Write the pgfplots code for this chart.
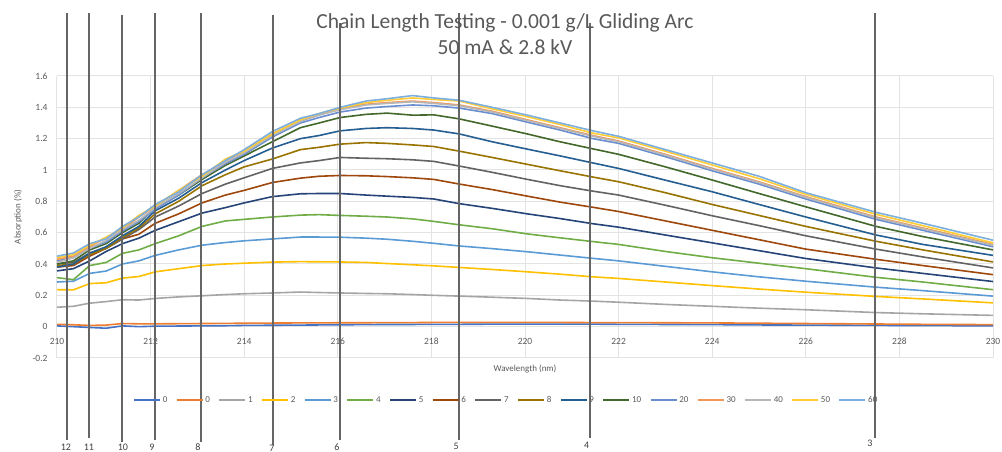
\documentclass[border=0pt]{standalone}
\usepackage{fontspec}
\setmainfont{Carlito}
\usepackage{pgfplots}
\pgfplotsset{compat=1.18}
\usepackage{pgfplotstable}

\definecolor{cA}{HTML}{4472C4}
\definecolor{cB}{HTML}{ED7D31}
\definecolor{cC}{HTML}{A5A5A5}
\definecolor{cD}{HTML}{FFC000}
\definecolor{cE}{HTML}{5B9BD5}
\definecolor{cF}{HTML}{70AD47}
\definecolor{cG}{HTML}{264478}
\definecolor{cH}{HTML}{9E480E}
\definecolor{cI}{HTML}{636363}
\definecolor{cJ}{HTML}{997300}
\definecolor{cK}{HTML}{255E91}
\definecolor{cL}{HTML}{43682B}
\definecolor{cM}{HTML}{698ED0}
\definecolor{cN}{HTML}{F1975A}
\definecolor{cO}{HTML}{B7B7B7}
\definecolor{cP}{HTML}{FFCD33}
\definecolor{cQ}{HTML}{7CAFDD}
\definecolor{gridc}{HTML}{E3E3E3}
\definecolor{textc}{HTML}{595959}
\definecolor{vlinec}{HTML}{666666}
\definecolor{labc}{HTML}{404040}

\pgfplotstableread{
x s0a s0b s1 s2 s3 s4 s5 s6 s7 s8 s9 s10 s20 s30 s40 s50 s60
210 0.005 0.015 0.124 0.236 0.285 0.313 0.356 0.38 0.40 0.39 0.38 0.40 0.42 0.43 0.41 0.44 0.45
210.35 0.000 0.012 0.130 0.235 0.290 0.300 0.370 0.39 0.41 0.40 0.40 0.42 0.44 0.45 0.44 0.46 0.47
210.7 -0.005 0.008 0.150 0.275 0.340 0.390 0.420 0.45 0.47 0.46 0.47 0.49 0.50 0.51 0.50 0.52 0.53
211.05 -0.010 0.010 0.160 0.280 0.355 0.410 0.480 0.50 0.50 0.50 0.51 0.53 0.54 0.57 0.55 0.57 0.56
211.4 0.005 0.020 0.172 0.310 0.400 0.468 0.530 0.56 0.56 0.57 0.58 0.60 0.61 0.62 0.62 0.63 0.64
211.75 0.000 0.018 0.170 0.320 0.420 0.490 0.565 0.59 0.62 0.63 0.64 0.66 0.67 0.70 0.68 0.71 0.70
212.1 0.003 0.018 0.180 0.350 0.455 0.530 0.615 0.66 0.70 0.72 0.74 0.76 0.75 0.77 0.76 0.77 0.78
212.6 0.004 0.019 0.190 0.370 0.490 0.580 0.670 0.72 0.77 0.80 0.82 0.84 0.84 0.87 0.85 0.87 0.86
213.1 0.005 0.020 0.197 0.390 0.520 0.640 0.725 0.79 0.85 0.90 0.92 0.94 0.95 0.97 0.95 0.96 0.97
213.6 0.006 0.021 0.205 0.400 0.537 0.675 0.760 0.84 0.91 0.97 1.00 1.03 1.04 1.05 1.05 1.07 1.06
214 0.008 0.022 0.210 0.405 0.548 0.685 0.790 0.87 0.95 1.02 1.06 1.09 1.10 1.12 1.11 1.12 1.13
214.6 0.009 0.023 0.215 0.412 0.560 0.700 0.830 0.92 1.01 1.07 1.14 1.18 1.21 1.23 1.22 1.23 1.245
215.2 0.010 0.024 0.221 0.415 0.572 0.712 0.848 0.948 1.045 1.13 1.20 1.27 1.30 1.32 1.31 1.32 1.33
215.6 0.011 0.024 0.218 0.414 0.572 0.715 0.850 0.960 1.060 1.145 1.22 1.30 1.335 1.355 1.35 1.36 1.36
216.05 0.012 0.025 0.215 0.413 0.571 0.710 0.850 0.965 1.080 1.165 1.25 1.335 1.37 1.39 1.385 1.395 1.40
216.6 0.013 0.025 0.212 0.410 0.565 0.705 0.840 0.963 1.075 1.175 1.265 1.355 1.395 1.42 1.415 1.43 1.44
217.05 0.014 0.026 0.210 0.403 0.558 0.700 0.833 0.958 1.072 1.170 1.270 1.363 1.405 1.43 1.425 1.445 1.455
217.6 0.014 0.026 0.205 0.395 0.545 0.688 0.825 0.950 1.065 1.160 1.265 1.350 1.415 1.44 1.435 1.46 1.475
218.05 0.015 0.027 0.200 0.388 0.532 0.672 0.815 0.940 1.055 1.150 1.255 1.352 1.41 1.43 1.425 1.45 1.46
218.6 0.015 0.027 0.195 0.378 0.515 0.650 0.785 0.910 1.025 1.120 1.230 1.326 1.395 1.415 1.41 1.44 1.445
219.3 0.016 0.027 0.188 0.365 0.498 0.625 0.755 0.875 0.985 1.080 1.180 1.280 1.36 1.375 1.37 1.39 1.40
220.05 0.016 0.027 0.180 0.350 0.478 0.592 0.720 0.833 0.940 1.036 1.133 1.230 1.305 1.32 1.315 1.34 1.35
220.75 0.016 0.027 0.170 0.335 0.457 0.567 0.690 0.795 0.900 0.995 1.090 1.180 1.255 1.27 1.265 1.29 1.30
221.45 0.016 0.026 0.163 0.318 0.436 0.543 0.657 0.762 0.865 0.955 1.045 1.135 1.20 1.22 1.215 1.235 1.25
222 0.015 0.026 0.156 0.308 0.420 0.525 0.635 0.735 0.840 0.925 1.010 1.100 1.17 1.185 1.18 1.205 1.215
223 0.014 0.025 0.142 0.285 0.385 0.480 0.585 0.675 0.775 0.855 0.935 1.020 1.085 1.10 1.095 1.12 1.13
224 0.013 0.024 0.130 0.262 0.350 0.440 0.535 0.615 0.708 0.780 0.861 0.936 0.995 1.01 1.005 1.032 1.045
225 0.011 0.022 0.118 0.240 0.318 0.405 0.485 0.555 0.645 0.710 0.780 0.850 0.91 0.925 0.92 0.945 0.96
226 0.010 0.020 0.108 0.220 0.290 0.370 0.435 0.495 0.580 0.640 0.700 0.765 0.815 0.83 0.825 0.845 0.855
227.5 0.008 0.017 0.090 0.193 0.252 0.315 0.375 0.430 0.495 0.545 0.585 0.640 0.685 0.70 0.695 0.717 0.73
228.5 0.007 0.015 0.082 0.177 0.230 0.285 0.340 0.390 0.445 0.490 0.525 0.575 0.615 0.63 0.625 0.645 0.66
230 0.005 0.013 0.072 0.152 0.195 0.236 0.288 0.332 0.375 0.413 0.455 0.490 0.51 0.525 0.52 0.535 0.552
}\spectra

\begin{document}
\begin{tikzpicture}
\path[use as bounding box] (-57pt,-94pt) rectangle (945pt,358pt);
\begin{axis}[
  scale only axis, width=936pt, height=282pt,
  xmin=210, xmax=230, ymin=-0.2, ymax=1.6,
  clip=false,
  axis line style={draw=none},
  tick style={draw=none},
  xtick={210,212,214,216,218,220,222,224,226,228,230},
  xticklabels={210,212,214,216,218,220,222,224,226,228,230},
  ytick={-0.2,0,0.2,0.4,0.6,0.8,1,1.2,1.4,1.6},
  yticklabels={-0.2,0,0.2,0.4,0.6,0.8,1,1.2,1.4,1.6},
  grid=major, grid style={line width=1pt, color=gridc},
  ticklabel style={font=\fontsize{9.5}{10}\selectfont, text=textc},
  xticklabel style={anchor=center, yshift=17pt},
  yticklabel style={xshift=-6pt},
  xlabel={Wavelength (nm)},
  xlabel style={at={(axis description cs:0.5,-0.039)}, anchor=center, font=\fontsize{9}{10}\selectfont, text=textc},
  ylabel={Absorption (\%)},
  ylabel style={at={(axis description cs:-0.0417,0.5)}, anchor=center, font=\fontsize{9}{10}\selectfont, text=textc},
  title={Chain Length Testing - 0.001 g/L Gliding Arc\\50 mA \& 2.8 kV},
  title style={at={(axis description cs:0.4786,1.128)}, anchor=center, align=center, font=\fontsize{21.5}{26}\selectfont, text=textc},
  legend columns=17,
  legend style={at={(axis description cs:0.48,-0.149)}, anchor=center, draw=none, fill=none,
    font=\fontsize{9}{10}\selectfont, text=textc, inner sep=0pt,
    column sep=0pt, /tikz/every even column/.append style={column sep=6.5pt}},
  legend image code/.code={\draw[#1] (0pt,0pt) -- (26pt,0pt);},
  every axis plot/.append style={line width=1.6pt},
]
\addplot[cA] table[x=x,y=s0a] {\spectra}; \addlegendentry{0}
\addplot[cB] table[x=x,y=s0b] {\spectra}; \addlegendentry{0}
\addplot[cC] table[x=x,y=s1] {\spectra}; \addlegendentry{1}
\addplot[cD] table[x=x,y=s2] {\spectra}; \addlegendentry{2}
\addplot[cE] table[x=x,y=s3] {\spectra}; \addlegendentry{3}
\addplot[cF] table[x=x,y=s4] {\spectra}; \addlegendentry{4}
\addplot[cG] table[x=x,y=s5] {\spectra}; \addlegendentry{5}
\addplot[cH] table[x=x,y=s6] {\spectra}; \addlegendentry{6}
\addplot[cI] table[x=x,y=s7] {\spectra}; \addlegendentry{7}
\addplot[cJ] table[x=x,y=s8] {\spectra}; \addlegendentry{8}
\addplot[cK] table[x=x,y=s9] {\spectra}; \addlegendentry{9}
\addplot[cL] table[x=x,y=s10] {\spectra}; \addlegendentry{10}
\addplot[cM] table[x=x,y=s20] {\spectra}; \addlegendentry{20}
\addplot[cN] table[x=x,y=s30] {\spectra}; \addlegendentry{30}
\addplot[cO] table[x=x,y=s40] {\spectra}; \addlegendentry{40}
\addplot[cP] table[x=x,y=s50] {\spectra}; \addlegendentry{50}
\addplot[cQ] table[x=x,y=s60] {\spectra}; \addlegendentry{60}
% vertical marker lines
\addplot[forget plot, vlinec, line width=2pt] coordinates {(210.214,2.002) (210.214,-0.723)};
\addplot[forget plot, vlinec, line width=2pt] coordinates {(210.684,2.002) (210.684,-0.711)};
\addplot[forget plot, vlinec, line width=2pt] coordinates {(211.389,1.989) (211.389,-0.736)};
\addplot[forget plot, vlinec, line width=2pt] coordinates {(212.094,2.002) (212.094,-0.723)};
\addplot[forget plot, vlinec, line width=2pt] coordinates {(213.077,2.002) (213.077,-0.736)};
\addplot[forget plot, vlinec, line width=2pt] coordinates {(214.615,1.989) (214.615,-0.755)};
\addplot[forget plot, vlinec, line width=2pt] coordinates {(216.047,1.938) (216.047,-0.723)};
\addplot[forget plot, vlinec, line width=2pt] coordinates {(218.590,2.002) (218.590,-0.723)};
\addplot[forget plot, vlinec, line width=2pt] coordinates {(221.389,1.938) (221.389,-0.711)};
\addplot[forget plot, vlinec, line width=2pt] coordinates {(227.479,2.002) (227.479,-0.711)};
\begin{scope}[every node/.style={font=\fontsize{10}{11}\selectfont, text=labc}]
\node at (axis cs:210.19,-0.768) {12};
\node at (axis cs:210.68,-0.768) {11};
\node at (axis cs:211.41,-0.768) {10};
\node at (axis cs:212.03,-0.768) {9};
\node at (axis cs:213.01,-0.768) {8};
\node at (axis cs:214.59,-0.775) {7};
\node at (axis cs:215.98,-0.772) {6};
\node at (axis cs:218.53,-0.762) {5};
\node at (axis cs:221.32,-0.755) {4};
\node at (axis cs:227.37,-0.743) {3};
\end{scope}
\end{axis}
\end{tikzpicture}
\end{document}
